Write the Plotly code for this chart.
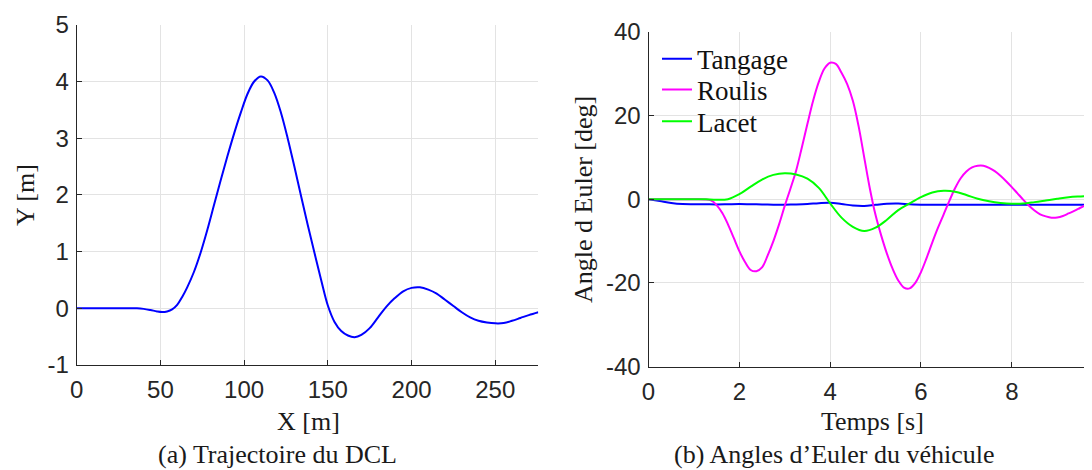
import plotly.graph_objects as go

# ---------------- data: (a) trajectory ----------------
traj_x = [0, 10, 20, 30, 36, 40, 44, 48, 51, 54, 57, 60, 63, 66, 70, 74, 78, 82, 86, 90,
          94, 98, 102, 106, 110, 114, 118, 122, 126, 130, 134, 138, 142, 146, 150, 154,
          158, 162, 166, 170, 175, 180, 185, 190, 195, 200, 205, 210, 215, 220, 225, 230,
          235, 240, 245, 250, 255, 260, 265, 270, 275.7]
traj_y = [0, 0, 0, 0, 0, -0.01, -0.03, -0.055, -0.065, -0.055, -0.02, 0.06, 0.2, 0.37,
          0.64, 0.98, 1.38, 1.82, 2.26, 2.68, 3.08, 3.45, 3.78, 4.0, 4.09, 4.02, 3.8,
          3.45, 3.0, 2.5, 1.98, 1.47, 0.98, 0.5, 0.05, -0.24, -0.4, -0.48, -0.51,
          -0.47, -0.35, -0.16, 0.03, 0.18, 0.3, 0.36, 0.37, 0.33, 0.26, 0.15, 0.04,
          -0.07, -0.16, -0.22, -0.25, -0.265, -0.26, -0.22, -0.17, -0.12, -0.07]

# ---------------- data: (b) Euler angles ----------------
t = [0, 0.25, 0.5, 0.75, 1.0, 1.25, 1.5, 1.75, 2.0, 2.25, 2.5, 2.75, 3.0, 3.25, 3.5, 3.75,
     4.0, 4.25, 4.5, 4.75, 5.0, 5.25, 5.5, 5.75, 6.0, 6.25, 6.5, 6.75, 7.0, 7.25, 7.5, 7.75,
     8.0, 8.25, 8.5, 8.75, 9.0, 9.25, 9.5, 9.75, 10.0]
tangage = [0, -0.45, -0.9, -1.15, -1.2, -1.22, -1.25, -1.2, -1.15, -1.2, -1.25, -1.3, -1.3,
           -1.25, -1.15, -0.95, -0.85, -1.15, -1.5, -1.6, -1.35, -1.1, -1.05, -1.2, -1.3,
           -1.3, -1.3, -1.3, -1.3, -1.3, -1.3, -1.3, -1.3, -1.3, -1.3, -1.3, -1.3, -1.3,
           -1.3, -1.3, -1.3]
lacet = [0, 0, 0, 0, 0, -0.03, -0.15, 0.0, 1.2, 3.0, 4.7, 5.8, 6.2, 5.9, 4.9, 2.7, -1.0,
         -4.4, -6.6, -7.6, -6.8, -4.9, -2.6, -1.0, 0.5, 1.6, 2.0, 1.8, 1.0, 0.1, -0.5, -0.9,
         -1.1, -1.05, -0.7, -0.3, 0.1, 0.45, 0.65, 0.8, 0.85]

t_roulis = [0, 0.5, 1.0, 1.25, 1.375, 1.5, 1.625, 1.75, 1.875, 2.0, 2.125, 2.25, 2.375,
            2.5, 2.625, 2.75, 2.875, 3.0, 3.125, 3.25, 3.375, 3.5, 3.625, 3.75, 3.875,
            4.0, 4.125, 4.25, 4.375, 4.5, 4.625, 4.75, 4.875, 5.0, 5.125, 5.25, 5.375,
            5.5, 5.625, 5.75, 5.875, 6.0, 6.125, 6.25, 6.375, 6.5, 6.625, 6.75, 6.875,
            7.0, 7.125, 7.25, 7.375, 7.5, 7.625, 7.75, 7.875, 8.0, 8.125, 8.25, 8.375,
            8.5, 8.625, 8.75, 8.875, 9.0, 9.125, 9.25, 9.375, 9.5, 9.625, 9.75, 9.875, 10.0]
roulis = [0, 0, 0, -0.05, -0.3, -1.4, -3.3, -6.0, -9.2, -12.4, -15.0, -16.9, -17.2,
          -16.3, -13.4, -10.0, -6.0, -1.6, 2.5, 6.8, 12.3, 18.0, 23.5, 28.0, 31.2,
          32.6, 32.3, 30.2, 27.5, 23.5, 17.5, 10.0, 2.5, -3.8, -8.7, -13.0, -16.6,
          -19.4, -21.1, -21.3, -20.0, -17.4, -14.0, -10.3, -6.8, -3.6, -0.4, 2.6, 5.0,
          6.6, 7.6, 8.0, 8.0, 7.5, 6.7, 5.6, 4.3, 2.9, 1.4, -0.1, -1.5,
          -2.7, -3.6, -4.1, -4.4, -4.35, -4.0, -3.4, -2.8, -2.1, -1.4, -0.7, 0.0, 0.6]

# ---------------- tick labels ----------------
xa_ticks = [0, 50, 100, 150, 200, 250]
xa_text = ["0", "50", "100", "150", "200", "250"]
ya_ticks = [-1, 0, 1, 2, 3, 4, 5]
ya_text = ["-1", "0", "1", "2", "3", "4", "5"]
xb_ticks = [0, 2, 4, 6, 8, 10]
xb_text = ["0", "2", "4", "6", "8", "10"]
yb_ticks = [-40, -20, 0, 20, 40]
yb_text = ["-40", "-20", "0", "20", "40"]

SERIF = "Liberation Serif, DejaVu Serif, serif"
SANS = "Liberation Sans, Arial, sans-serif"
AX = "#262626"
GRID = "#e3e3e3"

# the page body adds an 8 px offset, so the figure is 1084x462 and positions are shifted
W, H, OFF = 1084, 462, 8


def fx(px):
    return (px - OFF) / W


def fy(py):
    return 1 - (py - OFF) / H


fig = go.Figure()
fig.add_trace(go.Scatter(x=traj_x, y=traj_y, mode="lines",
                         line=dict(color="#0000ff", width=2, shape="spline", smoothing=1),
                         xaxis="x", yaxis="y", showlegend=False))
fig.add_trace(go.Scatter(x=t, y=tangage, mode="lines", name="Tangage",
                         line=dict(color="#0000ff", width=2, shape="spline", smoothing=1),
                         xaxis="x2", yaxis="y2", legend="legend"))
fig.add_trace(go.Scatter(x=t_roulis, y=roulis, mode="lines", name="Roulis",
                         line=dict(color="#ff00ff", width=2, shape="spline", smoothing=1),
                         xaxis="x2", yaxis="y2", legend="legend2"))
fig.add_trace(go.Scatter(x=t, y=lacet, mode="lines", name="Lacet",
                         line=dict(color="#00ff00", width=2, shape="spline", smoothing=1),
                         xaxis="x2", yaxis="y2", legend="legend3"))

axis_common = dict(showgrid=True, gridcolor=GRID, gridwidth=1, zeroline=False,
                   showline=True, linecolor=AX, linewidth=1, ticks="inside", ticklen=5,
                   tickcolor=AX, tickwidth=1, tickfont=dict(family=SANS, size=24, color=AX),
                   tickmode="array", fixedrange=True)

fig.update_layout(
    width=W, height=H,
    margin=dict(l=0, r=0, t=0, b=0, pad=0, autoexpand=False),
    paper_bgcolor="white", plot_bgcolor="white",
    xaxis=dict(domain=[fx(76.7), fx(538.3)], range=[0, 275.7], anchor="y",
               tickvals=xa_ticks, ticktext=xa_text, ticklabelstandoff=3, **axis_common),
    yaxis=dict(domain=[fy(365), fy(24.8)], range=[-1, 5], anchor="x",
               tickvals=ya_ticks, ticktext=ya_text, ticklabelstandoff=2, **axis_common),
    xaxis2=dict(domain=[fx(648.5), 1.0], range=[0, 9.766], anchor="y2",
                tickvals=xb_ticks, ticktext=xb_text, ticklabelstandoff=3, **axis_common),
    yaxis2=dict(domain=[fy(366.7), fy(31.7)], range=[-40, 40], anchor="x2",
                tickvals=yb_ticks, ticktext=yb_text, ticklabelstandoff=2, **axis_common),
)

leg_common = dict(bgcolor="rgba(0,0,0,0)", borderwidth=0, xanchor="left", yanchor="middle",
                  font=dict(family=SERIF, size=27, color="#111111"))
fig.update_layout(
    legend=dict(x=fx(657), y=fy(59.3), **leg_common),
    legend2=dict(x=fx(657), y=fy(90.0), **leg_common),
    legend3=dict(x=fx(657), y=fy(121.7), **leg_common),
)

texts = [
    ("X [m]", 308, 421, 0, "middle"),
    ("Y [m]", 25, 195, -90, "middle"),
    ("Temps [s]", 872, 421, 0, "middle"),
    ("Angle d Euler [deg]", 583, 200, -90, "middle"),
    ("(a) Trajectoire du DCL", 277.5, 469.5, 0, "bottom"),
    ("(b) Angles d’Euler du véhicule", 834, 469.5, 0, "bottom"),
]
for txt, px, py, ang, ya in texts:
    fig.add_annotation(text=txt, x=fx(px), y=fy(py), xref="paper", yref="paper",
                       xanchor="center", yanchor=ya, showarrow=False, textangle=ang,
                       borderpad=0, font=dict(family=SERIF, size=26, color="#1a1a1a"))

fig.write_html("out.html")
